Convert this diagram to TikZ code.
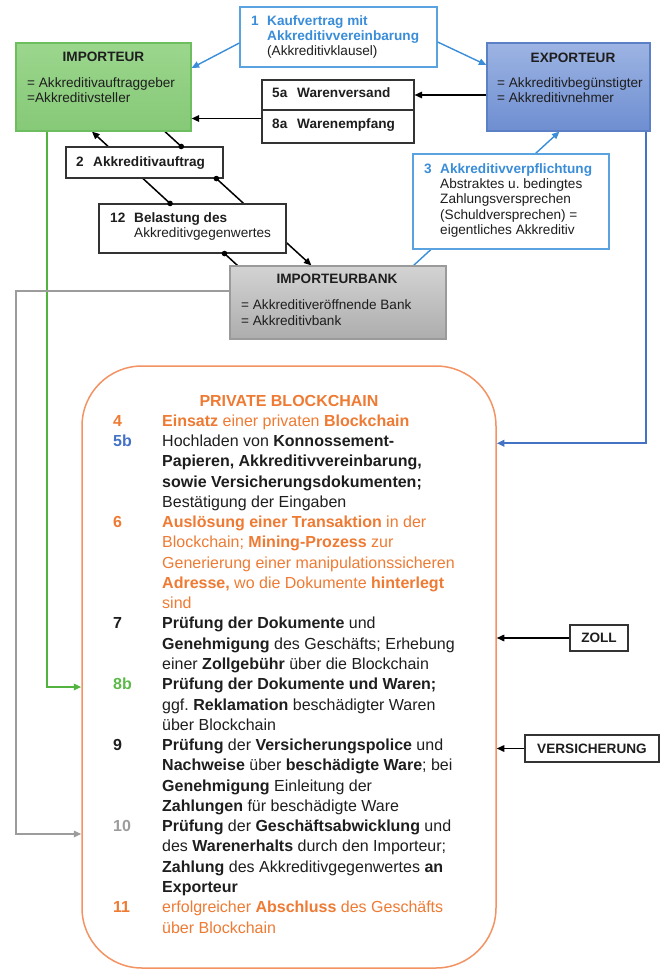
\documentclass[tikz,border=0pt]{standalone}
\usepackage{fontspec}
\setmainfont{Liberation Sans}
\usetikzlibrary{arrows.meta,calc,backgrounds}
\frenchspacing
\definecolor{orng}{HTML}{EE7A33}
\definecolor{orngline}{HTML}{F39263}
\definecolor{lblue}{HTML}{3A8DD8}
\definecolor{lblueline}{HTML}{5AA2E0}
\definecolor{dblue}{HTML}{4472C4}
\definecolor{grn}{HTML}{5DB94A}
\definecolor{grnline}{HTML}{52B43E}
\definecolor{gry}{HTML}{9C9C9C}
\definecolor{txt}{HTML}{1E1E1E}
\definecolor{impfillA}{HTML}{9BD68D}
\definecolor{impfillB}{HTML}{86C977}
\definecolor{impdraw}{HTML}{6DBE5E}
\definecolor{expfillA}{HTML}{9DB4E3}
\definecolor{expfillB}{HTML}{6E8ED1}
\definecolor{expdraw}{HTML}{5C80C6}
\definecolor{bankA}{HTML}{D3D3D3}
\definecolor{bankB}{HTML}{ADADAD}
\definecolor{bankdraw}{HTML}{9A9A9A}
\newcommand\bcl[3][txt]{\node[bct,text=#1,anchor=base west] (l#2) at (162,{406+20.27*#2}) {#3};}
\newcommand\bcn[3]{\node[bct,text=#1,anchor=base west] (nn#2) at (113,{406+20.27*#2}) {\textbf{#3}};}
\begin{document}
\begin{tikzpicture}[x=1pt,y=-1pt,
  sm/.style={font=\fontsize{13.6}{15.3}\selectfont, inner sep=0pt, text=txt},
  bct/.style={font=\fontsize{16}{20.27}\selectfont, inner sep=0pt},
  wbox/.style={draw=black!80, line width=1.1pt, fill=white, inner sep=0pt},
  bbox/.style={draw=lblueline, line width=1.3pt, fill=white, inner sep=0pt},
  arr/.style={-{Triangle[length=7.5pt,width=6.5pt]}, line width=1.5pt},
  barr/.style={-{Triangle[length=7.5pt,width=6.5pt]}, line width=1.4pt, draw=lblue},
  dot/.style={fill=black, draw=none}]
\useasboundingbox (0,0) rectangle (665,972);

% ---------- boxes ----------
\node[draw=impdraw, line width=1.2pt, top color=impfillA, bottom color=impfillB,
      minimum width=175pt, minimum height=88pt, inner sep=0pt] (imp) at (103.5,87) {};
\node[draw=expdraw, line width=1.2pt, top color=expfillA, bottom color=expfillB,
      minimum width=163pt, minimum height=88pt, inner sep=0pt] (exp) at (568.5,87) {};
\node[draw=bankdraw, line width=1.2pt, top color=bankA, bottom color=bankB,
      minimum width=216pt, minimum height=73pt, inner sep=0pt] (bank) at (338,302.5) {};
\node[bbox, minimum width=197pt, minimum height=60pt] (n1) at (338.5,37) {};
\node[bbox, minimum width=196pt, minimum height=95pt] (n3) at (511,201.5) {};
\node[wbox, minimum width=152pt, minimum height=30pt] (n5a) at (338,95) {};
\node[wbox, minimum width=152pt, minimum height=33pt] (n8a) at (338,126.5) {};
\node[wbox, minimum width=157pt, minimum height=31pt] (n2) at (144.5,162.5) {};
\node[wbox, minimum width=187pt, minimum height=49pt] (n12) at (192.5,228.5) {};
\node[wbox, minimum width=58pt, minimum height=26pt] (zoll) at (599,638) {};
\node[wbox, minimum width=134pt, minimum height=27pt] (vers) at (592,748.5) {};
\node[draw=orngline, line width=1.5pt, rounded corners=60pt, fill=none,
      minimum width=414pt, minimum height=602pt, inner sep=0pt] (bc) at (289,667) {};

% ---------- texts ----------
\node[sm, anchor=base] (impT) at (103.5,61) {\textbf{IMPORTEUR}};
\node[sm, anchor=base west] (impL1) at (27,87) {= Akkreditivauftraggeber};
\node[sm, anchor=base west] (impL2) at (27,102) {=Akkreditivsteller};

\node[sm, anchor=base] (expT) at (573,62) {\textbf{EXPORTEUR}};
\node[sm, anchor=base west] (expL1) at (497,87) {= Akkreditivbegünstigter};
\node[sm, anchor=base west] (expL2) at (497,102) {= Akkreditivnehmer};

\node[sm, anchor=base] (bankT) at (337,283) {\textbf{IMPORTEURBANK}};
\node[sm, anchor=base west] (bankL1) at (241,309) {= Akkreditiveröffnende Bank};
\node[sm, anchor=base west] (bankL2) at (241,325) {= Akkreditivbank};

\node[sm, anchor=base west, text=lblue] (n1n) at (251,25) {\textbf{1}};
\node[sm, anchor=base west, text=lblue] (n1a) at (267,25) {\textbf{Kaufvertrag mit}};
\node[sm, anchor=base west, text=lblue] (n1b) at (267,40) {\textbf{Akkreditivvereinbarung}};
\node[sm, anchor=base west] (n1c) at (267,55) {(Akkreditivklausel)};

\node[sm, anchor=base west, text=lblue] (n3n) at (424,173) {\textbf{3}};
\node[sm, anchor=base west, text=lblue] (n3a) at (440,173) {\textbf{Akkreditivverpflichtung}};
\node[sm, anchor=base west] (n3b) at (440,188.5) {Abstraktes u. bedingtes};
\node[sm, anchor=base west] (n3c) at (440,203.5) {Zahlungsversprechen};
\node[sm, anchor=base west] (n3d) at (440,219) {(Schuldversprechen) =};
\node[sm, anchor=base west] (n3e) at (440,234) {eigentliches Akkreditiv};

\node[sm, anchor=base west] (n5n) at (272,97) {\textbf{5a}};
\node[sm, anchor=base west] (n5t) at (297,97) {\textbf{Warenversand}};
\node[sm, anchor=base west] (n8n) at (272,128) {\textbf{8a}};
\node[sm, anchor=base west] (n8t) at (297,128) {\textbf{Warenempfang}};

\node[sm, anchor=base west] (n2n) at (76,166) {\textbf{2}};
\node[sm, anchor=base west] (n2t) at (93,166) {\textbf{Akkreditivauftrag}};

\node[sm, anchor=base west] (n12n) at (110,222) {\textbf{12}};
\node[sm, anchor=base west] (n12a) at (134,222) {\textbf{Belastung des}};
\node[sm, anchor=base west] (n12b) at (134,237.5) {Akkreditivgegenwertes};

\node[sm, anchor=center] (zollT) at (zoll.center) {\textbf{ZOLL}};
\node[sm, anchor=center] (versT) at (vers.center) {\textbf{VERSICHERUNG}};

% ---------- blockchain text ----------
\node[bct, anchor=base, text=orng] (bctitle) at (289,406) {\textbf{PRIVATE BLOCKCHAIN}};
\bcn{orng}{1}{4}
\bcl[orng]{1}{\textbf{Einsatz} einer privaten \textbf{Blockchain}}
\bcn{dblue}{2}{5b}
\bcl{2}{Hochladen von \textbf{Konnossement-}}
\bcl{3}{\textbf{Papieren, Akkreditivvereinbarung,}}
\bcl{4}{\textbf{sowie Versicherungsdokumenten;}}
\bcl{5}{Bestätigung der Eingaben}
\bcn{orng}{6}{6}
\bcl[orng]{6}{\textbf{Auslösung einer Transaktion} in der}
\bcl[orng]{7}{Blockchain; \textbf{Mining-Prozess} zur}
\bcl[orng]{8}{Generierung einer manipulationssicheren}
\bcl[orng]{9}{\textbf{Adresse,} wo die Dokumente \textbf{hinterlegt}}
\bcl[orng]{10}{sind}
\bcn{txt}{11}{7}
\bcl{11}{\textbf{Prüfung der Dokumente} und}
\bcl{12}{\textbf{Genehmigung} des Geschäfts; Erhebung}
\bcl{13}{einer \textbf{Zollgebühr} über die Blockchain}
\bcn{grn}{14}{8b}
\bcl{14}{\textbf{Prüfung der Dokumente und Waren;}}
\bcl{15}{ggf. \textbf{Reklamation} beschädigter Waren}
\bcl{16}{über Blockchain}
\bcn{txt}{17}{9}
\bcl{17}{\textbf{Prüfung} der \textbf{Versicherungspolice} und}
\bcl{18}{\textbf{Nachweise} über \textbf{beschädigte Ware}; bei}
\bcl{19}{\textbf{Genehmigung} Einleitung der}
\bcl{20}{\textbf{Zahlungen} für beschädigte Ware}
\bcn{gry}{21}{10}
\bcl{21}{\textbf{Prüfung} der \textbf{Geschäftsabwicklung} und}
\bcl{22}{des \textbf{Warenerhalts} durch den Importeur;}
\bcl{23}{\textbf{Zahlung} des Akkreditivgegenwertes \textbf{an}}
\bcl{24}{\textbf{Exporteur}}
\bcn{orng}{25}{11}
\bcl[orng]{25}{erfolgreicher \textbf{Abschluss} des Geschäfts}
\bcl[orng]{26}{über Blockchain}

% ---------- connectors ----------
\coordinate (a1) at ($(bank.north west)+(8,0)$);
\coordinate (a2) at ($(imp.south)+(-11.5,0)$);
\coordinate (b1) at ($(imp.south)+(61.5,0)$);
\coordinate (b2) at ($(bank.north west)+(82,0)$);
\coordinate (c1) at ($(bank.north east)+(-33,0)$);
\coordinate (c2) at ($(exp.south west)+(73,0)$);
\coordinate (g1) at (16,291);
\begin{scope}[on background layer]
  \draw[arr] (a1) -- (a2);
  \draw[arr] (b1) -- (b2);
  \draw[barr] (c1) -- (c2);
\end{scope}
\draw[barr] ($(n1.west)+(0,6)$) -- ($(imp.east)+(0,-19)$);
\draw[barr] ($(n1.east)+(0,5)$) -- ($(exp.west)+(0,-22)$);
\draw[arr] (exp.west |- n5a.east) -- (n5a.east);
\draw[arr] ($(n8a.west)+(0,-8)$) -- (imp.east |- {$(n8a.west)+(0,-8)$});
% dots
\fill[dot] (intersection of a1--a2 and n12.south west--n12.south east) circle (2.8);
\fill[dot] (intersection of a1--a2 and n12.north west--n12.north east) circle (2.8);
\fill[dot] (intersection of b1--b2 and n2.north west--n2.north east) circle (2.8);
\fill[dot] (intersection of b1--b2 and n2.south west--n2.south east) circle (2.8);
% side lines
\draw[dblue, line width=2pt, -{Triangle[length=7.5pt,width=6.5pt]}]
  ($(exp.south east)+(-5,0)$) |- ($(bc.north east)+(0,78)$);
\draw[grnline, line width=2pt, -{Triangle[length=7.5pt,width=6.5pt]}]
  ($(imp.south west)+(32,0)$) |- ($(bc.west)+(0,20)$);
\draw[gry, line width=1.6pt, -{Triangle[length=7.5pt,width=6.5pt]}]
  ($(bank.west)+(0,-11.5)$) -- (g1) |- ($(bc.west)+(0,167)$);
\draw[arr] (zoll.west) -- (bc.east |- zoll.west);
\draw[arr] (vers.west) -- (bc.east |- vers.west);
\end{tikzpicture}
\end{document}
